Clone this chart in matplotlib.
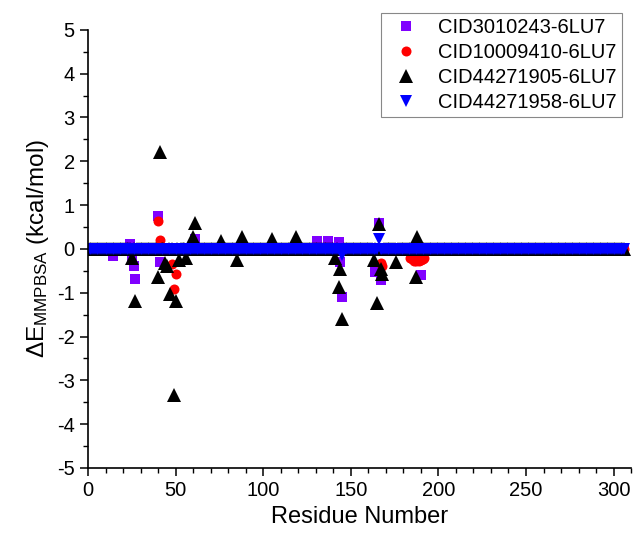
import numpy as np
import matplotlib
matplotlib.use("Agg")
import matplotlib.pyplot as plt

plt.rcParams['font.family'] = ['Liberation Sans', 'DejaVu Sans']
plt.rcParams['mathtext.fontset'] = 'custom'
plt.rcParams['mathtext.rm'] = 'Liberation Sans'
plt.rcParams['mathtext.it'] = 'Liberation Sans:italic'
plt.rcParams['axes.unicode_minus'] = False

# residues of 6LU7 (main protease)
residues = np.arange(1, 307)

# per-residue energy contributions, only the non-zero ones
cid3010243 = {14: -0.16, 24: 0.12, 25: -0.2, 26: -0.4, 27: -0.68, 40: 0.74, 41: -0.31,
              61: 0.22, 131: 0.17, 137: 0.17, 143: 0.15, 144: -0.29, 145: -1.1,
              164: -0.52, 165: -0.45, 166: 0.6, 167: -0.71, 190: -0.59}
cid10009410 = {40: 0.64, 41: 0.2, 48: -0.35, 49: -0.91, 50: -0.57, 167: -0.33,
               168: -0.4, 184: -0.2, 185: -0.24, 186: -0.27, 187: -0.28, 188: -0.26,
               189: -0.28, 190: -0.25, 191: -0.22, 192: -0.2}
cid44271905 = {25: -0.2, 27: -1.19, 40: -0.63, 41: 2.22, 44: -0.32, 45: -0.4,
               47: -1.03, 49: -3.33, 50: -1.19, 52: -0.25, 56: -0.2, 60: 0.27,
               61: 0.6, 76: 0.17, 85: -0.25, 88: 0.27, 105: 0.22, 119: 0.27,
               141: -0.21, 143: -0.87, 144: -0.46, 145: -1.6, 163: -0.25,
               165: -1.23, 166: 0.57, 167: -0.46, 168: -0.57, 176: -0.31,
               187: -0.63, 188: 0.27}
cid44271958 = {145: -0.15, 166: 0.22}

labels = ["CID3010243-6LU7", "CID10009410-6LU7", "CID44271905-6LU7", "CID44271958-6LU7"]


def full(d):
    return np.array([d.get(r, 0.0) for r in residues])


fig = plt.figure(figsize=(6.33, 5.33), dpi=100)
ax = fig.add_axes([0.139, 0.122, 0.858, 0.822])

ax.plot(residues, full(cid3010243), 's', color='#8000FF', ms=6.7, mew=0, label=labels[0])
ax.plot(residues, full(cid10009410), 'o', color='#FF0000', ms=7.2, mew=0, label=labels[1])
ax.plot(residues, full(cid44271905), '^', color='black', ms=9.5, mew=0, label=labels[2])
ax.plot(residues, full(cid44271958), 'v', color='#0000FF', ms=9, mew=0, label=labels[3])

ax.set_xlim(0, 310)
ax.set_ylim(-5, 5)
ax.set_xticks(np.arange(0, 301, 50))
ax.set_xticks(np.arange(0, 311, 10), minor=True)
ax.set_yticks(np.arange(-5, 6, 1))
ax.set_yticks(np.arange(-5, 5.1, 0.5), minor=True)
ax.tick_params(which='major', length=6, width=1.1, labelsize=14.5, direction='out')
ax.tick_params(which='minor', length=3.5, width=1.0, direction='out')

ax.spines['top'].set_visible(False)
ax.spines['right'].set_visible(False)
ax.spines['left'].set_linewidth(1.2)
ax.spines['bottom'].set_linewidth(1.2)

ax.set_xlabel("Residue Number", fontsize=17)
ax.set_ylabel(r"$\Delta$E$_{\mathrm{MMPBSA}}$ (kcal/mol)", fontsize=17.5)

leg = ax.legend(loc='upper right', bbox_to_anchor=(0.983, 1.039), borderaxespad=0,
                fontsize=14.5, fancybox=False, framealpha=1, edgecolor='#888888',
                handletextpad=0.55, labelspacing=0.3, borderpad=0.25, handlelength=2.05)
leg.get_frame().set_linewidth(0.8)

fig.savefig("out.png", dpi=100)
